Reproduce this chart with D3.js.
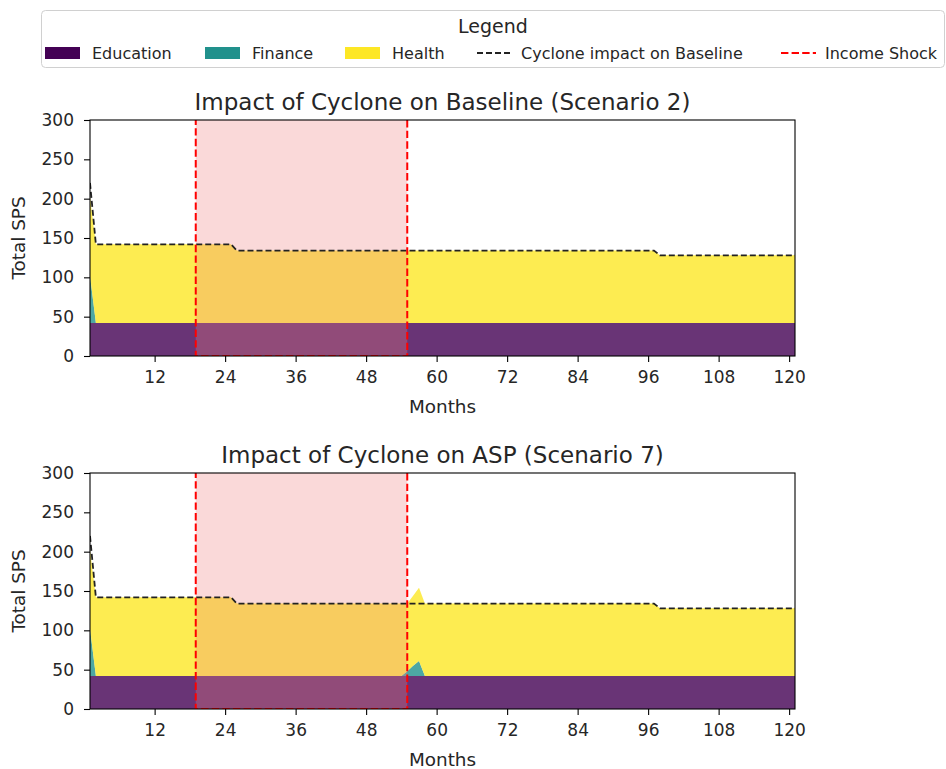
<!DOCTYPE html>
<html>
<head>
<meta charset="utf-8">
<script src="https://cdn.jsdelivr.net/npm/d3@7"></script>
<style>
  body { margin: 0; background: #fff; }
  text { font-family: "DejaVu Sans", sans-serif; fill: #262626; }
</style>
</head>
<body>
<div id="chart"></div>
<script>
// key months where the series change (values are held between them)
var baseMonths = [1, 2, 25, 26, 97, 98, 121];
var baseEducation = [42, 42, 42, 42, 42, 42, 42];
var baseFinance = [60, 0, 0, 0, 0, 0, 0];
var baseHealth = [100, 100, 100, 92, 92, 86, 86];

var aspMonths = [1, 2, 25, 26, 54, 55, 56, 57, 58, 97, 98, 121];
var aspEducation = [42, 42, 42, 42, 42, 42, 42, 42, 42, 42, 42, 42];
var aspFinance = [60, 0, 0, 0, 0, 6, 13, 19, 0, 0, 0, 0];
var aspHealth = [100, 100, 100, 92, 92, 86, 89, 93, 92, 92, 86, 86];

// cyclone impact on baseline (dashed line)
var cycloneMonths = [1, 2, 25, 26, 97, 98, 121];
var cycloneValues = [220, 142, 142, 134, 134, 128, 128];

var shockStart = 19;
var shockEnd = 55;

var xTicks = [12, 24, 36, 48, 60, 72, 84, 96, 108, 120];
var yTicks = [0, 50, 100, 150, 200, 250, 300];
var seriesNames = ["Education", "Finance", "Health"];
var seriesColors = ["#440154", "#21918c", "#fde725"];

var svgWidth = 946;
var svgHeight = 769;

var svg = d3.select("#chart")
  .append("svg")
  .attr("width", svgWidth)
  .attr("height", svgHeight);

var margin = { left: 90, right: 151 };
var width = svgWidth - margin.left - margin.right;
var plotHeight = 236;

var xScale = d3.scaleLinear().domain([1, 121]).range([0, width]);
var yScale = d3.scaleLinear().domain([0, 300]).range([plotHeight, 0]);

var panels = [
  { title: "Impact of Cyclone on Baseline (Scenario 2)", top: 120,
    months: baseMonths, edu: baseEducation, fin: baseFinance, health: baseHealth },
  { title: "Impact of Cyclone on ASP (Scenario 7)", top: 473,
    months: aspMonths, edu: aspEducation, fin: aspFinance, health: aspHealth }
];

panels.forEach(function(p, i) {
  var g = svg.append("g")
    .attr("transform", `translate(${margin.left}, ${p.top})`);

  g.append("clipPath")
    .attr("id", "clip" + i)
    .append("rect")
    .attr("width", width)
    .attr("height", plotHeight);

  var plot = g.append("g").attr("clip-path", `url(#clip${i})`);

  var rows = p.months.map(function(m, j) {
    return { month: m, Education: p.edu[j], Finance: p.fin[j], Health: p.health[j] };
  });
  var stacked = d3.stack().keys(seriesNames)(rows);

  var area = d3.area()
    .x(d => xScale(d.data.month))
    .y0(d => yScale(d[0]))
    .y1(d => yScale(d[1]));

  plot.selectAll(".layer")
    .data(stacked)
    .enter()
    .append("path")
    .attr("d", area)
    .attr("fill", (d, k) => seriesColors[k])
    .attr("fill-opacity", 0.8);

  // shaded income shock period
  plot.append("rect")
    .attr("x", xScale(shockStart))
    .attr("y", 0)
    .attr("width", xScale(shockEnd) - xScale(shockStart))
    .attr("height", plotHeight)
    .attr("fill", "lightcoral")
    .attr("fill-opacity", 0.3);

  var line = d3.line()
    .x(d => xScale(d[0]))
    .y(d => yScale(d[1]));

  plot.append("path")
    .attr("d", line(cycloneMonths.map((m, j) => [m, cycloneValues[j]])))
    .attr("fill", "none")
    .attr("stroke", "#222")
    .attr("stroke-width", 1.8)
    .attr("stroke-dasharray", "6,3");

  plot.append("path")
    .attr("d", line([[shockStart, 330], [shockStart, 0], [shockEnd, 0], [shockEnd, 330]]))
    .attr("fill", "none")
    .attr("stroke", "red")
    .attr("stroke-width", 2)
    .attr("stroke-dasharray", "7.4,3.2");

  // axes
  var xAxis = d3.axisBottom(xScale).tickValues(xTicks).tickSizeOuter(0).tickSize(6).tickPadding(9);
  var yAxis = d3.axisLeft(yScale).tickValues(yTicks).tickSizeOuter(0).tickSize(6).tickPadding(10);

  var xg = g.append("g")
    .attr("transform", `translate(0, ${plotHeight})`)
    .call(xAxis);
  var yg = g.append("g").call(yAxis);

  [xg, yg].forEach(function(a) {
    a.select(".domain").remove();
    a.selectAll("line").attr("stroke", "#000").attr("stroke-width", 1.1);
    a.selectAll("text").style("font-size", "17px").attr("fill", "#262626");
  });

  g.append("rect")
    .attr("width", width)
    .attr("height", plotHeight)
    .attr("fill", "none")
    .attr("stroke", "#000")
    .attr("stroke-width", 1.1);

  g.append("text")
    .attr("x", width / 2)
    .attr("y", -10)
    .attr("text-anchor", "middle")
    .style("font-size", "23px")
    .text(p.title);

  g.append("text")
    .attr("x", width / 2)
    .attr("y", plotHeight + 57)
    .attr("text-anchor", "middle")
    .style("font-size", "18.4px")
    .text("Months");

  g.append("text")
    .attr("transform", "rotate(-90)")
    .attr("x", -plotHeight / 2)
    .attr("y", -65)
    .attr("text-anchor", "middle")
    .style("font-size", "18.4px")
    .text("Total SPS");
});

// legend
var legend = svg.append("g");
legend.append("rect")
  .attr("x", 41.5)
  .attr("y", 10.5)
  .attr("width", 903)
  .attr("height", 57)
  .attr("rx", 4)
  .attr("fill", "#fff")
  .attr("stroke", "#d0d0d0");

legend.append("text")
  .attr("x", 493)
  .attr("y", 33)
  .attr("text-anchor", "middle")
  .style("font-size", "19px")
  .text("Legend");

var patchX = [45, 205, 345];
seriesNames.forEach(function(name, k) {
  legend.append("rect")
    .attr("x", patchX[k])
    .attr("y", 47)
    .attr("width", 35)
    .attr("height", 12)
    .attr("fill", seriesColors[k]);
  legend.append("text")
    .attr("x", patchX[k] + 47)
    .attr("y", 59)
    .style("font-size", "16px")
    .text(name);
});

legend.append("line")
  .attr("x1", 477).attr("x2", 512)
  .attr("y1", 53).attr("y2", 53)
  .attr("stroke", "#222")
  .attr("stroke-width", 1.8)
  .attr("stroke-dasharray", "6,3");
legend.append("text")
  .attr("x", 521).attr("y", 59)
  .style("font-size", "16px")
  .text("Cyclone impact on Baseline");

legend.append("line")
  .attr("x1", 781).attr("x2", 816)
  .attr("y1", 53).attr("y2", 53)
  .attr("stroke", "red")
  .attr("stroke-width", 2)
  .attr("stroke-dasharray", "7.4,3.2");
legend.append("text")
  .attr("x", 825).attr("y", 59)
  .style("font-size", "16px")
  .text("Income Shock");
</script>
</body>
</html>
